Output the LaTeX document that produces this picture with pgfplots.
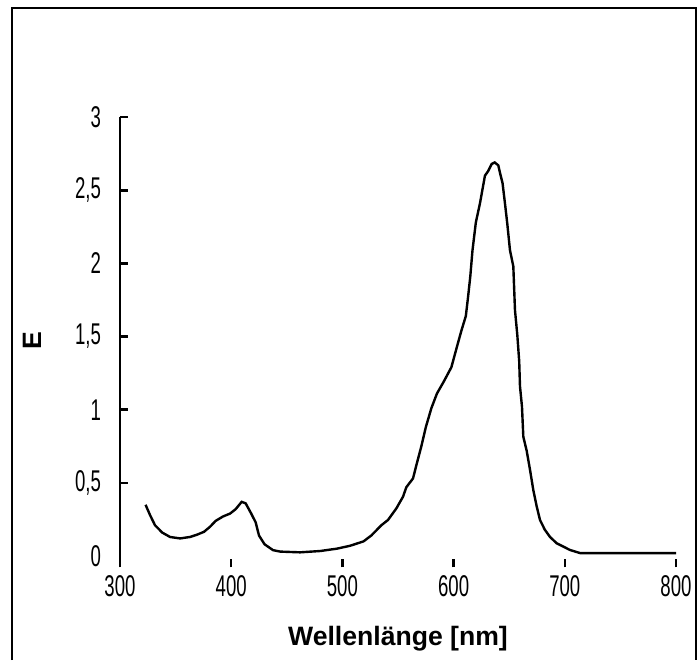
\documentclass[border=0pt]{standalone}
\usepackage{pgfplots}
\pgfplotsset{compat=1.18}
\usepackage{fontspec}
\setmainfont{Liberation Sans}
\newfontfamily\narrowfont{Liberation Sans}[FakeStretch=0.62]

\begin{document}
\begin{tikzpicture}
    % page size (1 px = 0.5 pt)
    \useasboundingbox (-60pt,-48.35pt) rectangle (288.5pt,281.65pt);

    \begin{axis}[
        at={(0,0)}, anchor=south west,
        scale only axis,
        width=278pt, height=223.1pt,
        xmin=300, xmax=800,
        ymin=-0.05, ymax=3,
        xtick={300,400,...,800},
        ytick={0.5,1,...,3},
        extra y ticks={0},
        extra y tick style={major tick length=0pt},
        axis y line*=left,
        axis x line*=bottom,
        x axis line style={draw=none},
        axis line style={line width=1.3pt},
        every tick/.style={black, line width=1.3pt},
        major tick length=4pt,
        x tick style={/pgfplots/tick align=center},
        /pgf/number format/assume math mode=true,
        /pgf/number format/use comma,
        /pgf/number format/1000 sep={},
        ticklabel style={font=\narrowfont\fontsize{15}{17}\selectfont},
        xticklabel style={yshift=-2.5pt},
        yticklabel style={xshift=-6pt},
        xlabel={\textbf{Wellenlänge [nm]}},
        ylabel={\textbf{E}},
        xlabel style={at={(axis description cs:0.5,0)}, anchor=center, yshift=-37.5pt,
            font=\fontsize{13.3}{15}\selectfont},
        ylabel style={at={(axis description cs:-0.1583,0.5)}, anchor=center,
            font=\fontsize{13.3}{15}\selectfont},
        clip=false,
    ]

    % absorption spectrum
    \addplot[black, line width=1.2pt] coordinates {
        (323,0.35) (327,0.28) (331.5,0.21) (338,0.16) (345,0.13) (354,0.12)
        (363,0.13) (369,0.145) (375.5,0.165) (381,0.2) (386,0.24) (392.6,0.27)
        (399,0.29) (404,0.32) (409.4,0.37) (413,0.36) (418,0.29) (422,0.23)
        (425,0.14) (430,0.08) (437.6,0.04) (444,0.03) (462,0.025) (480,0.034)
        (495,0.05) (507,0.07) (519,0.10) (526,0.14) (535,0.21) (541,0.246)
        (548.5,0.325) (554.5,0.405) (557.5,0.47) (563.5,0.53) (566.5,0.62)
        (571,0.75) (575,0.88) (580,1.01) (585,1.11) (591,1.19) (598,1.29)
        (603,1.43) (607,1.54) (611,1.64) (613,1.77) (615,1.91) (617,2.09)
        (620,2.28) (623.7,2.41) (628.2,2.60) (631,2.63) (634.3,2.68) (637,2.69)
        (640.2,2.67) (641.7,2.62) (644,2.55) (646.2,2.41) (648.3,2.27)
        (650.7,2.09) (653.7,1.98) (655.2,1.68) (657.3,1.51) (659,1.33)
        (659.7,1.16) (661.5,1.02) (662.7,0.815) (665.7,0.72) (668.7,0.59)
        (671.7,0.45) (674.7,0.34) (677.7,0.246) (682,0.18) (686.7,0.13)
        (692.7,0.087) (704.7,0.041) (713.7,0.02) (750,0.02) (800,0.02)
    };
    \end{axis}

    % frame of the chart area
    \draw[line width=1pt] (-54pt,-48.35pt) -- (-54pt,277.65pt) -- (288pt,277.65pt) -- (288pt,-48.35pt);
\end{tikzpicture}
\end{document}
